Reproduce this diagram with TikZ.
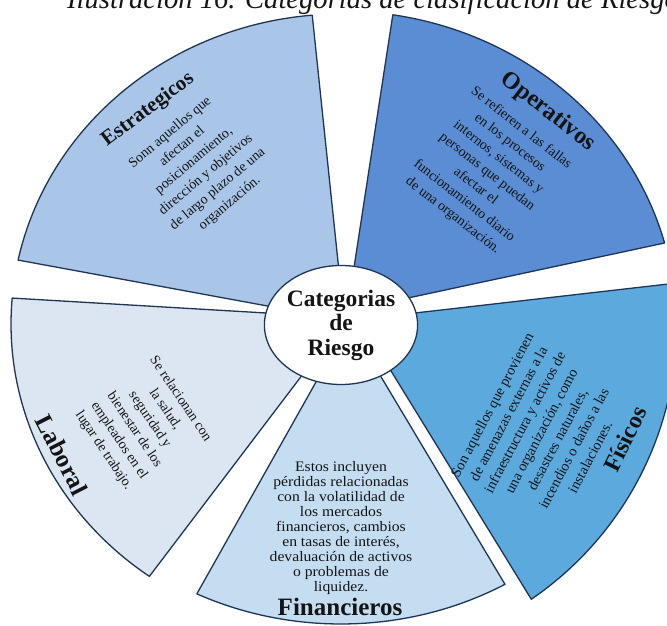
\documentclass[tikz,border=0pt]{standalone}
\usepackage{fontspec}
\setmainfont{Liberation Serif}
\usetikzlibrary{calc,shapes.geometric}
\definecolor{cEstr}{HTML}{A9C5E8}
\definecolor{cOper}{HTML}{5A8DD3}
\definecolor{cFis}{HTML}{5CA9DD}
\definecolor{cFin}{HTML}{C4DDF1}
\definecolor{cLab}{HTML}{DCE6F3}
\definecolor{edge}{HTML}{1E3553}
\definecolor{ink}{HTML}{141414}

\begin{document}
\begin{tikzpicture}[x=1pt,y=1pt,
  sector/.style={draw=edge, line width=1.3pt, line join=round},
  body/.style={align=center, text=ink, font=\fontsize{14}{18.5}\selectfont, inner sep=0pt},
  head/.style={text=ink, font=\bfseries\fontsize{24}{24}\selectfont, inner sep=0pt},
]
\useasboundingbox (0,0) rectangle (667,-626);
\clip (0,0) rectangle (667,-626);
\coordinate (O) at (341,-324);

% caption line above the figure
\node[anchor=base west, text=ink, font=\itshape\fontsize{28.6}{28.6}\selectfont, inner sep=0pt]
  (caption) at (67,-8.5) {Ilustración 16. Categorías de clasificación de Riesgo};

% Estrategicos
\path[sector, fill=cEstr] ($(O)+(95:330pt and 310pt)$)
  arc[start angle=95, end angle=168.1, x radius=330pt, y radius=310pt]
  -- (300,-312) -- (342,-300) -- cycle;
% Operativos
\path[sector, fill=cOper] ($(O)+(15:335pt and 313pt)$)
  arc[start angle=15, end angle=81.1, x radius=335pt, y radius=313pt]
  -- (349,-300) -- (380,-304) -- cycle;
% Fisicos
\path[sector, fill=cFis] ($(O)+(-55.5:336pt and 334pt)$)
  arc[start angle=-55.5, end angle=7, x radius=336pt, y radius=334pt]
  -- (380,-317) -- (372,-340) -- cycle;
% Financieros
\path[sector, fill=cFin] ($(O)+(244.1:330pt and 300pt)$)
  arc[start angle=244.1, end angle=299.8, x radius=330pt, y radius=300pt]
  -- (365,-350) -- (334,-350) -- cycle;
% Laboral
\path[sector, fill=cLab] ($(O)+(175.2:330pt and 310pt)$)
  arc[start angle=175.2, end angle=234.5, x radius=330pt, y radius=310pt]
  -- (325,-345) -- (300,-315) -- cycle;

% hub
\node[ellipse, draw=edge, line width=1.3pt, fill=white, minimum width=152pt,
  minimum height=119pt, inner sep=0pt, align=center, text=ink,
  font=\bfseries\fontsize{23.5}{24.5}\selectfont] (core) at (341,-325) {Categorias\\de\\Riesgo};

% headings
\node[head, font=\bfseries\fontsize{21}{21}\selectfont, rotate=37] (hE) at (148,-110) {Estrategicos};
\node[head, rotate=-38] (hO) at (548,-112) {Operativos};
\node[head, rotate=64] (hF) at (625,-439) {Físicos};
\node[head, font=\bfseries\fontsize{25}{25}\selectfont] (hN) at (340,-607) {Financieros};
\node[head, font=\bfseries\fontsize{25}{25}\selectfont, rotate=-63] (hL) at (62,-455) {Laboral};

% descriptions
\node[body, rotate=40] (tE) at (200,-168)
  {Sonn aquellos que\\afectan el\\posicionamiento,\\dirección y objetivos\\de largo plazo de una\\organización.};
\node[body, rotate=-38] (tO) at (487,-172)
  {Se refieren a las fallas\\en los procesos\\internos, sistemas y\\personas que puedan\\afectar el\\funcionamiento diario\\de una organización.};
\node[body, font=\fontsize{14.5}{18.5}\selectfont, rotate=62] (tF) at (541,-431)
  {Son aquellos que provienen\\de amenazas externas a la\\infraestructura y activos de\\una organización, como\\desastres naturales,\\incendios o daños a las\\instalaciones.};
\node[body, font=\fontsize{14.5}{15}\selectfont, xscale=1.08] (tN) at (341,-528)
  {Estos incluyen\\pérdidas relacionadas\\con la volatilidad de\\los mercados\\financieros, cambios\\en tasas de interés,\\devaluación de activos\\o problemas de\\liquidez.};
\node[body, rotate=-56] (tL) at (142,-425)
  {Se relacionan con\\la salud,\\seguridad y\\bienestar de los\\empleados en el\\lugar de trabajo.};
\end{tikzpicture}
\end{document}
